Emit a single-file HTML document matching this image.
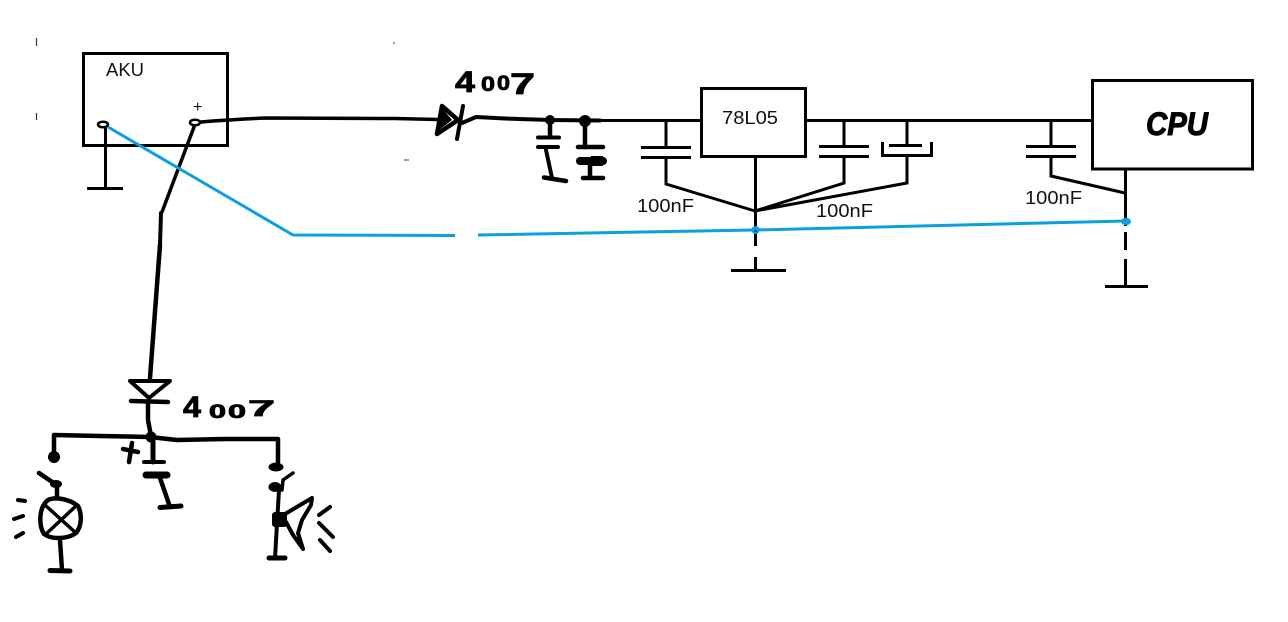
<!DOCTYPE html>
<html>
<head>
<meta charset="utf-8">
<style>
html,body{margin:0;padding:0;background:#fff;width:1288px;height:622px;overflow:hidden}
svg{display:block}
text{font-family:"Liberation Sans",sans-serif}
</style>
</head>
<body>
<svg width="1288" height="622" viewBox="0 0 1288 622" xmlns="http://www.w3.org/2000/svg">
<rect width="1288" height="622" fill="#fff"/>

<!-- stray marks -->
<g fill="none" stroke="#333" stroke-width="1.2">
<path d="M36.500 38V46M36.500 113V120"/>
<path d="M393 43h2M404 160h5" stroke="#666"/>
</g>

<!-- thin machine drawn lines -->
<g fill="none" stroke="#000" stroke-width="3">
<rect x="83.500" y="53.500" width="144" height="92"/>
<rect x="701.500" y="88.500" width="104" height="68"/>
<rect x="1092.500" y="80.500" width="160" height="88.500"/>
<path d="M105.500 128V188M87 188.500H123"/>
<path d="M600 120.500H701M806 120.500H1092"/>
<!-- cap 1 -->
<path d="M666 120V147M641 147.500H691M641 157.500H691M666 157V184L755 211"/>
<!-- regulator ground -->
<path d="M755.500 157V246M755.500 257V270M731 270.500H786"/>
<!-- cap 2 -->
<path d="M844 120V146M819 146.500H869M819 156.500H869M844 156V183L755 211"/>
<!-- cap 3 -->
<path d="M907 120V145M889 145.500H922M882.500 142V155.500H931.500V142M907 155V183L755 211"/>
<!-- cpu cap -->
<path d="M1051 120V146M1026 146.500H1076M1026 156.500H1076M1051 156V176L1125 193"/>
<!-- cpu ground -->
<path d="M1125.500 169V226M1125.500 232V250M1125.500 259V286M1105 286.500H1148"/>
</g>

<!-- terminals -->
<ellipse cx="103" cy="124.500" rx="5" ry="2.800" fill="#fff" stroke="#000" stroke-width="2.500"/>
<ellipse cx="195" cy="122.500" rx="5" ry="2.800" fill="#fff" stroke="#000" stroke-width="2.500"/>

<!-- hand drawn wires -->
<g fill="none" stroke="#000" stroke-width="3.500" stroke-linecap="round" stroke-linejoin="round">
<path d="M201 122L213 121L245 119L265 118L395 118.500L438 119.500" />
<path d="M194 127L162 212"/>
<path d="M161 213L160 245" stroke-width="4"/>
<path d="M160 245L150 378" stroke-width="4.500"/>
<!-- top diode -->
<path d="M442 106L437 134L458 120Z" stroke-width="4.500"/>
<path d="M463 106L457 139" stroke-width="4"/>
<path d="M462 123L476 117L505 118.500L550 120L600 120.500" stroke-width="4"/>
<!-- electrolytic group 1 -->
<path d="M550 120V135" stroke-width="4.500"/>
<path d="M538 137.500H559M538 147H558" stroke-width="4"/>
<path d="M546 150L552 178" stroke-width="4"/>
<path d="M544 177.500L566 181" stroke-width="4.500"/>
<!-- group 2 -->
<path d="M585 121V147" stroke-width="4.500"/>
<path d="M578 147H603" stroke-width="4.500"/>
<path d="M580 161H603" stroke-width="8"/>
<path d="M590 160V178" stroke-width="4.500"/>
<path d="M583 178H603" stroke-width="4.500"/>
<!-- lower diode -->
<path d="M130 381L170 381L149 398Z" stroke-width="4"/>
<path d="M131 401L168 402" stroke-width="4.500"/>
<path d="M148 402V420L151 436" stroke-width="4.500"/>
<!-- bus -->
<path d="M54 457V435L100 436L150 437L177 440L225 439L278 439V462" stroke-width="4.500"/>
<!-- lower cap -->
<path d="M153 438V462" stroke-width="5"/>
<path d="M144 462H164" stroke-width="4"/>
<path d="M146 475H167" stroke-width="7"/>
<path d="M160 478L170 507" stroke-width="4.500"/>
<path d="M160 507.500L181 506" stroke-width="5"/>
<path d="M123 449L138 452M132 443L129 462" stroke-width="4.500"/>
<!-- lamp -->
<path d="M39 473L58 486" stroke-width="4.500"/>
<path d="M57 486V498" stroke-width="4.500"/>
<path d="M48 500C54 497 68 498 78 506C82 514 82 526 76 533C68 539 52 540 44 534C39 526 38 508 48 500Z" stroke-width="4.500"/>
<path d="M45 505L76 533M77 505L46 534" stroke-width="3.500"/>
<path d="M60 540L62 570" stroke-width="4.500"/>
<path d="M50 570.500L70 571" stroke-width="5"/>
<path d="M18 500L25 501M14 519L23 516M16 537L23 533" stroke-width="4"/>
<!-- speaker -->
<path d="M293 473L283 480L282 490" stroke-width="3.500"/>
<path d="M279 490L275 558" stroke-width="4"/>
<path d="M269 558H285" stroke-width="5"/>
<path d="M285 514L312 498L311 505L302 520L298 533L303 549L293 535L286 522" stroke-width="4"/>
<path d="M319 515L330 507M319 523L333 537M320 540L330 551" stroke-width="4"/>
</g>

<!-- blobs -->
<g fill="#000">
<circle cx="550" cy="120" r="5"/>
<circle cx="585" cy="121" r="6"/>
<circle cx="151" cy="437" r="5.500"/>
<circle cx="54" cy="457" r="6"/>
<ellipse cx="276" cy="467" rx="7.500" ry="4.500"/>
<ellipse cx="275" cy="487" rx="6.500" ry="5"/>
<rect x="272" y="512" width="15" height="15" rx="3"/>
<ellipse cx="56" cy="484" rx="6" ry="4"/>
<path d="M591 156h12v10h-12z"/>
</g>
<path d="M442 108L452 120L439 130Z" fill="#000"/>

<!-- blue wire -->
<g fill="none" stroke="#0c9fe0" stroke-width="3">
<path d="M108 127L293 235L455 235.500"/>
<path d="M478 235L755 230L1126 221"/>
</g>
<circle cx="755.500" cy="230" r="4" fill="#0c9fe0"/>
<ellipse cx="1126" cy="221.500" rx="5" ry="3.800" fill="#0c9fe0"/>
<path d="M754 231h3" stroke="#000" stroke-width="1"/>

<!-- labels -->
<g fill="#111" font-size="18">
<text x="106" y="76" textLength="38" lengthAdjust="spacingAndGlyphs">AKU</text>
<text x="722" y="124" textLength="56" lengthAdjust="spacingAndGlyphs">78L05</text>
<text x="637" y="212" textLength="57" lengthAdjust="spacingAndGlyphs">100nF</text>
<text x="816" y="217" textLength="57" lengthAdjust="spacingAndGlyphs">100nF</text>
<text x="1025" y="204" textLength="57" lengthAdjust="spacingAndGlyphs">100nF</text>
<text x="193" y="112" font-size="16">+</text>
</g>

<!-- handwritten labels -->
<g fill="#000" stroke="#000" font-weight="bold" stroke-width="0.800">
<text font-size="30" x="455" y="92" textLength="20" lengthAdjust="spacingAndGlyphs">4</text>
<text font-size="21" x="481" y="91" textLength="14" lengthAdjust="spacingAndGlyphs">0</text>
<text font-size="21" x="497" y="90" textLength="13" lengthAdjust="spacingAndGlyphs">0</text>
<text font-size="30" x="510" y="94" textLength="25" lengthAdjust="spacingAndGlyphs">7</text>
<text font-size="30" x="183" y="417" textLength="18" lengthAdjust="spacingAndGlyphs">4</text>
<text font-size="19" x="209" y="418" textLength="17" lengthAdjust="spacingAndGlyphs">0</text>
<text font-size="19" x="228" y="418" textLength="18" lengthAdjust="spacingAndGlyphs">0</text>
<text font-size="22" x="248" y="416" textLength="27" lengthAdjust="spacingAndGlyphs">7</text>
<text x="1146" y="135" font-size="32" font-style="italic" stroke-width="1" textLength="62" lengthAdjust="spacingAndGlyphs">CPU</text>
</g>
</svg>
</body>
</html>
